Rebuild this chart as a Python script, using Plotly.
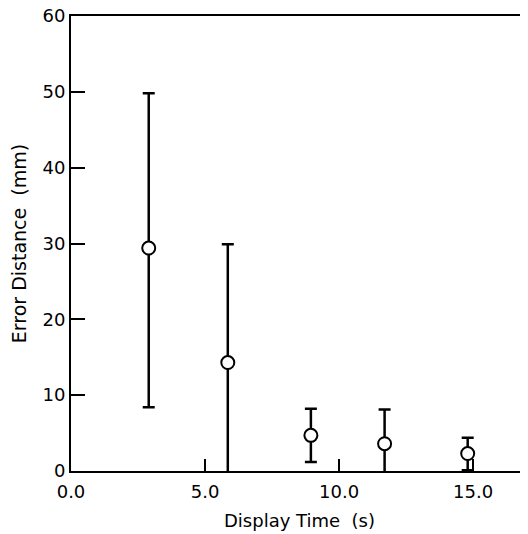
import plotly.graph_objects as go

display_time = [2.9, 5.85, 8.95, 11.7, 14.8]
error_mean = [29.4, 14.3, 4.7, 3.6, 2.3]
error_upper = [49.8, 29.9, 8.2, 8.1, 4.4]
error_lower = [8.4, -0.4, 1.2, -0.8, 0.1]

x_tick_vals = [0, 5, 10, 15]
x_tick_text = ["0.0", "5.0", "10.0", "15.0"]
y_tick_vals = [0, 10, 20, 30, 40, 50, 60]

plus = [u - m for u, m in zip(error_upper, error_mean)]
minus = [m - l for m, l in zip(error_mean, error_lower)]

fig = go.Figure()
fig.add_trace(go.Scatter(
    x=display_time, y=error_mean, mode="markers",
    marker=dict(symbol="circle", size=13, color="white",
                line=dict(color="black", width=2)),
    error_y=dict(type="data", symmetric=False, array=plus, arrayminus=minus,
                 color="black", thickness=2.5, width=6),
    cliponaxis=False, showlegend=False,
))

font = "DejaVu Sans, sans-serif"
fig.update_layout(
    width=528, height=534,
    margin=dict(l=63, r=8, t=8, b=71, autoexpand=False),
    paper_bgcolor="white", plot_bgcolor="white",
    font=dict(family=font, color="black", size=18),
    xaxis=dict(
        range=[0, 17.05], tickvals=x_tick_vals, ticktext=x_tick_text,
        ticks="inside", ticklen=12, tickwidth=1.5, tickcolor="black",
        showline=True, linewidth=2, linecolor="black", mirror=True,
        showgrid=False, zeroline=False, automargin=False,
        tickfont=dict(size=18), ticklabelstandoff=3, ticklabeloverflow="allow",
        title=dict(text="Display Time\u00a0 (s)", font=dict(size=18), standoff=14),
    ),
    yaxis=dict(
        range=[0, 60], tickvals=y_tick_vals,
        ticks="inside", ticklen=14, tickwidth=1.5, tickcolor="black",
        showline=True, linewidth=2, linecolor="black",
        showgrid=False, zeroline=False, automargin=False,
        tickfont=dict(size=18), ticklabeloverflow="allow",
        title=dict(text="Error Distance\u00a0 (mm)", font=dict(size=19), standoff=14),
    ),
)

fig.write_html("out.html")
